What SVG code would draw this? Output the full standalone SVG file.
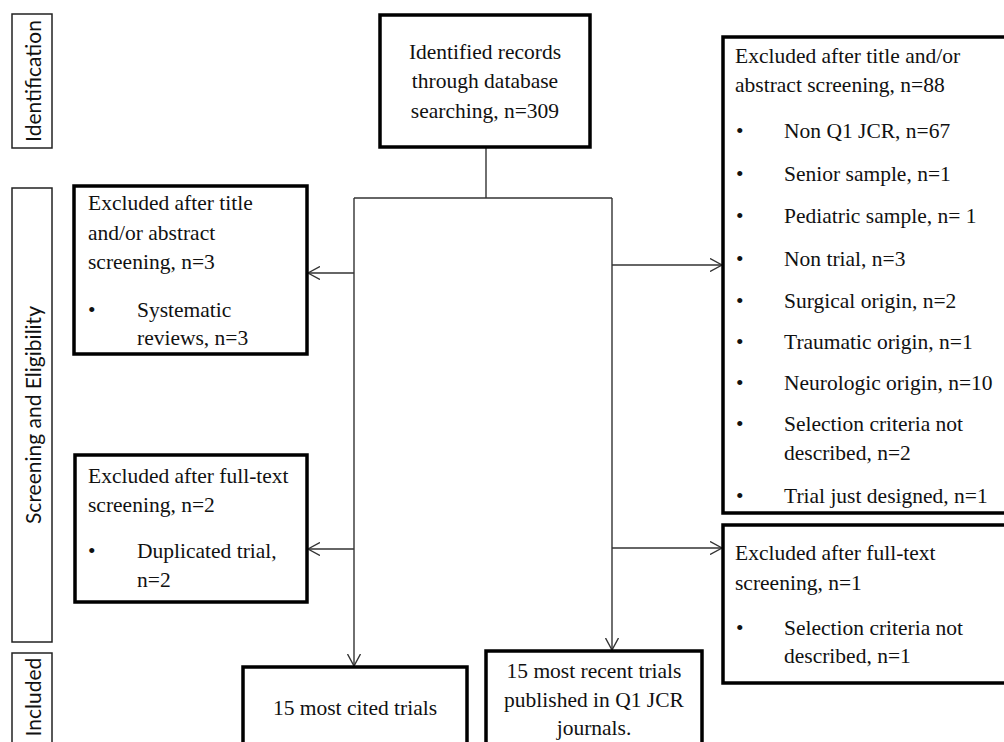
<svg xmlns="http://www.w3.org/2000/svg" width="1004" height="742" viewBox="0 0 1004 742">
<defs>
<style>
.box{fill:#fff;stroke:#000;stroke-width:3.5}
.lab{fill:#fff;stroke:#222;stroke-width:1.5}
.t{font-family:"Liberation Serif","Times New Roman",serif;font-size:21.5px;fill:#111}
.c{text-anchor:middle}
.s{font-family:Lato,"Liberation Sans",sans-serif;font-size:21px;fill:#111;text-anchor:middle;dominant-baseline:central}
.ln{fill:none;stroke:#333;stroke-width:1.4}
</style>
<marker id="ah" viewBox="0 0 12 14" refX="12" refY="7" markerWidth="12" markerHeight="14" markerUnits="userSpaceOnUse" orient="auto">
<path d="M0,0.5 L12,7 L0,13.5" fill="none" stroke="#333" stroke-width="1.4"/>
</marker>
</defs>
<rect width="1004" height="742" fill="#fff"/>

<g id="label-identification">
<rect class="lab" x="12" y="14" width="40" height="134"/>
<text class="s" transform="translate(32,81) rotate(-90)">Identification</text>
</g>
<g id="label-screening">
<rect class="lab" x="12" y="188" width="40" height="454"/>
<text class="s" transform="translate(32,415) rotate(-90)">Screening and Eligibility</text>
</g>
<g id="label-included">
<rect class="lab" x="12" y="653" width="40" height="100"/>
<text class="s" transform="translate(32,697) rotate(-90)">Included</text>
</g>

<g id="connectors">
<line class="ln" x1="486" y1="147" x2="486" y2="198"/>
<line class="ln" x1="354" y1="198" x2="612" y2="198"/>
<line class="ln" x1="354" y1="198" x2="354" y2="666" marker-end="url(#ah)"/>
<line class="ln" x1="612" y1="198" x2="612" y2="650" marker-end="url(#ah)"/>
<line class="ln" x1="354" y1="273" x2="308" y2="273" marker-end="url(#ah)"/>
<line class="ln" x1="354" y1="549" x2="308" y2="549" marker-end="url(#ah)"/>
<line class="ln" x1="612" y1="265" x2="722" y2="265" marker-end="url(#ah)"/>
<line class="ln" x1="612" y1="548" x2="722" y2="548" marker-end="url(#ah)"/>
</g>

<g id="identified">
<rect class="box" x="380" y="15" width="210" height="132"/>
<text class="t c" x="485" y="59">Identified records</text>
<text class="t c" x="485" y="88">through database</text>
<text class="t c" x="485" y="118">searching, n=309</text>
</g>

<g id="excluded-left-1">
<rect class="box" x="74" y="186" width="233" height="168"/>
<text class="t" x="88" y="210">Excluded after title</text>
<text class="t" x="88" y="240">and/or abstract</text>
<text class="t" x="88" y="269">screening, n=3</text>
<text class="t" x="88" y="317">•</text>
<text class="t" x="137" y="317">Systematic</text>
<text class="t" x="137" y="345">reviews, n=3</text>
</g>

<g id="excluded-left-2">
<rect class="box" x="75" y="455" width="232" height="147"/>
<text class="t" x="88" y="483">Excluded after full-text</text>
<text class="t" x="88" y="512">screening, n=2</text>
<text class="t" x="88" y="558">•</text>
<text class="t" x="137" y="558">Duplicated trial,</text>
<text class="t" x="137" y="587">n=2</text>
</g>

<g id="excluded-right-1">
<rect class="box" x="723" y="37" width="295" height="476"/>
<text class="t" x="735" y="63">Excluded after title and/or</text>
<text class="t" x="735" y="92">abstract screening, n=88</text>
<text class="t" x="736" y="138">•</text><text class="t" x="784" y="138">Non Q1 JCR, n=67</text>
<text class="t" x="736" y="181">•</text><text class="t" x="784" y="181">Senior sample, n=1</text>
<text class="t" x="736" y="223">•</text><text class="t" x="784" y="223">Pediatric sample, n= 1</text>
<text class="t" x="736" y="266">•</text><text class="t" x="784" y="266">Non trial, n=3</text>
<text class="t" x="736" y="308">•</text><text class="t" x="784" y="308">Surgical origin, n=2</text>
<text class="t" x="736" y="349">•</text><text class="t" x="784" y="349">Traumatic origin, n=1</text>
<text class="t" x="736" y="390">•</text><text class="t" x="784" y="390">Neurologic origin, n=10</text>
<text class="t" x="736" y="431">•</text><text class="t" x="784" y="431">Selection criteria not</text>
<text class="t" x="784" y="460">described, n=2</text>
<text class="t" x="736" y="503">•</text><text class="t" x="784" y="503">Trial just designed, n=1</text>
</g>

<g id="excluded-right-2">
<rect class="box" x="723" y="525" width="295" height="158"/>
<text class="t" x="735" y="560">Excluded after full-text</text>
<text class="t" x="735" y="590">screening, n=1</text>
<text class="t" x="736" y="635">•</text><text class="t" x="784" y="635">Selection criteria not</text>
<text class="t" x="784" y="663">described, n=1</text>
</g>

<g id="most-cited">
<rect class="box" x="243" y="667" width="224" height="90"/>
<text class="t c" x="355" y="715">15 most cited trials</text>
</g>

<g id="most-recent">
<rect class="box" x="486" y="651" width="216" height="100"/>
<text class="t c" x="594" y="678">15 most recent trials</text>
<text class="t c" x="594" y="707">published in Q1 JCR</text>
<text class="t c" x="594" y="735">journals.</text>
</g>
</svg>
